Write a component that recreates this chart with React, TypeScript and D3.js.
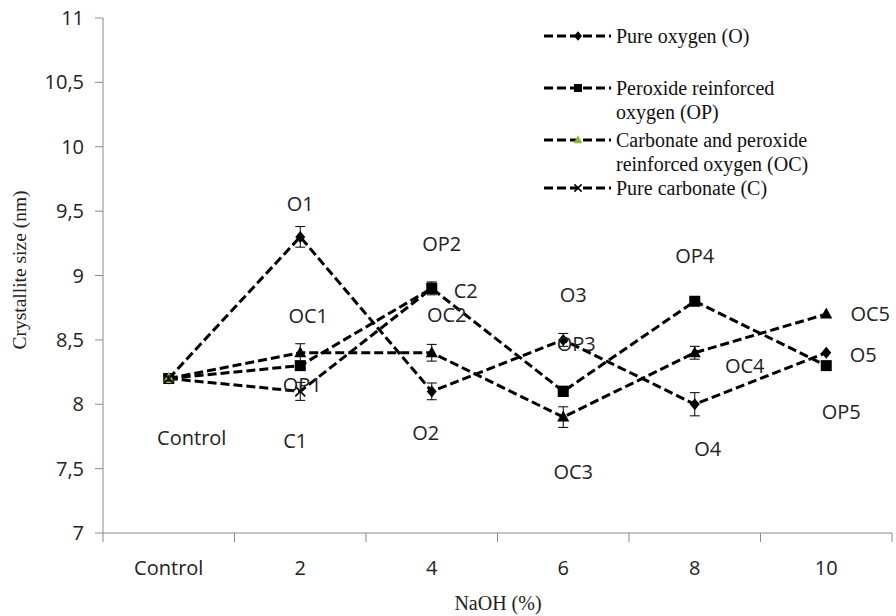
import * as d3 from 'd3'
import { useEffect, useRef } from 'react'

// categories on the x axis
const categories = ['Control', '2', '4', '6', '8', '10']
const yTickValues = [7, 7.5, 8, 8.5, 9, 9.5, 10, 10.5, 11]

// series values (crystallite size, nm)
const oxygen = [8.2, 9.3, 8.1, 8.5, 8.0, 8.4]
const oxygenErr = [0.03, 0.08, 0.065, 0.05, 0.09, 0]
const peroxide = [8.2, 8.3, 8.9, 8.1, 8.8, 8.3]
const peroxideErr = [0.02, 0.02, 0.05, 0.04, 0.02, 0]
const carbPeroxide = [8.2, 8.4, 8.4, 7.9, 8.4, 8.7]
const carbPeroxideErr = [0.02, 0.07, 0.065, 0.08, 0.05, 0]
const carbonate = [8.2, 8.1, 8.9]
const carbonateErr = [0.02, 0.07, 0.04]

// point labels
const oxygenLabels = ['Control', 'O1', 'O2', 'O3', 'O4', 'O5']
const peroxideLabels = ['', 'OP1', 'OP2', 'OP3', 'OP4', 'OP5']
const carbPeroxideLabels = ['', 'OC1', 'OC2', 'OC3', 'OC4', 'OC5']
const carbonateLabels = ['', 'C1', 'C2']

const legendNames = [
  ['Pure oxygen (O)'],
  ['Peroxide reinforced', 'oxygen (OP)'],
  ['Carbonate and peroxide', 'reinforced oxygen (OC)'],
  ['Pure carbonate (C)']
]

type Shape = 'diamond' | 'square' | 'triangle' | 'cross'

interface Series {
  values: number[]
  errs: number[]
  labels: string[]
  shape: Shape
  // label offsets in px (dx, dy) per point
  offsets: [number, number][]
}

const series: Series[] = [
  {
    values: oxygen, errs: oxygenErr, labels: oxygenLabels, shape: 'diamond',
    offsets: [[23, 59], [0, -33], [-6, 42], [10, -45], [13, 45], [37, 2]]
  },
  {
    values: peroxide, errs: peroxideErr, labels: peroxideLabels, shape: 'square',
    offsets: [[0, 0], [2, 19], [10, -44], [13, -47], [0, -45], [15, 46]]
  },
  {
    values: carbPeroxide, errs: carbPeroxideErr, labels: carbPeroxideLabels, shape: 'triangle',
    offsets: [[0, 0], [8, -37], [15, -38], [10, 55], [50, 13], [44, 0]]
  },
  {
    values: carbonate, errs: carbonateErr, labels: carbonateLabels, shape: 'cross',
    offsets: [[0, 0], [-5, 50], [34, 3]]
  }
]

const GREEN = '#8cb43c'
const AXIS = '#8a8a8a'
const SANS = '"Open Sans", sans-serif'
const SERIF = '"Liberation Serif", "Times New Roman", serif'

const drawMarker = (
  g: d3.Selection<SVGGElement, unknown, null, undefined>,
  shape: Shape, cx: number, cy: number, s: number, fill: string
) => {
  if (shape === 'diamond') {
    g.append('path')
      .attr('d', `M${cx},${cy - s * 0.6}L${cx + s * 0.5},${cy}L${cx},${cy + s * 0.6}L${cx - s * 0.5},${cy}Z`)
      .attr('fill', fill)
  } else if (shape === 'square') {
    g.append('rect')
      .attr('x', cx - s / 2).attr('y', cy - s / 2)
      .attr('width', s).attr('height', s)
      .attr('fill', fill)
  } else if (shape === 'triangle') {
    g.append('path')
      .attr('d', `M${cx},${cy - s * 0.6}L${cx + s * 0.55},${cy + s * 0.4}L${cx - s * 0.55},${cy + s * 0.4}Z`)
      .attr('fill', fill)
  } else {
    const h = s * 0.45
    g.append('path')
      .attr('d', `M${cx - h},${cy - h}L${cx + h},${cy + h}M${cx - h},${cy + h}L${cx + h},${cy - h}`)
      .attr('stroke', fill)
      .attr('stroke-width', 1.6)
  }
}

const App = () => {
  const ref = useRef<SVGSVGElement>(null)

  useEffect(() => {
    if (!ref.current) return
    const svg = d3.select(ref.current)
    svg.selectAll('*').remove()

    const x = d3.scaleBand().domain(categories).range([103, 892]).paddingInner(0).paddingOuter(0)
    const y = d3.scaleLinear().domain([7, 11]).range([533, 18])
    const cx = (i: number) => x(categories[i])! + x.bandwidth() / 2

    // Y axis
    const yAxis = svg.append('g')
    yAxis.append('line')
      .attr('x1', 103).attr('x2', 103).attr('y1', y(11)).attr('y2', y(7))
      .attr('stroke', AXIS)
    yTickValues.forEach(v => {
      yAxis.append('line')
        .attr('x1', 95).attr('x2', 103).attr('y1', y(v)).attr('y2', y(v))
        .attr('stroke', AXIS)
      yAxis.append('text')
        .attr('x', 84).attr('y', y(v))
        .attr('dy', '0.35em')
        .attr('text-anchor', 'end')
        .style('font-family', SANS)
        .style('font-size', '20px')
        .style('fill', '#222')
        .text(String(v).replace('.', ','))
    })

    // X axis
    const xAxis = svg.append('g')
    xAxis.append('line')
      .attr('x1', 103).attr('x2', 892).attr('y1', y(7)).attr('y2', y(7))
      .attr('stroke', AXIS)
    categories.forEach((c, i) => {
      xAxis.append('line')
        .attr('x1', x(c)!).attr('x2', x(c)!).attr('y1', y(7)).attr('y2', y(7) + 9)
        .attr('stroke', AXIS)
      xAxis.append('text')
        .attr('x', cx(i)).attr('y', 568)
        .attr('dy', '0.35em')
        .attr('text-anchor', 'middle')
        .style('font-family', SANS)
        .style('font-size', '20px')
        .style('fill', '#222')
        .text(c)
    })
    xAxis.append('line')
      .attr('x1', 892).attr('x2', 892).attr('y1', y(7)).attr('y2', y(7) + 9)
      .attr('stroke', AXIS)

    // axis titles
    svg.append('text')
      .attr('transform', `translate(19,270) rotate(-90)`)
      .attr('text-anchor', 'middle')
      .attr('dy', '0.35em')
      .style('font-family', SERIF)
      .style('font-size', '19.5px')
      .style('fill', '#222')
      .text('Crystallite size (nm)')
    svg.append('text')
      .attr('x', 498).attr('y', 603)
      .attr('text-anchor', 'middle')
      .attr('dy', '0.35em')
      .style('font-family', SERIF)
      .style('font-size', '20px')
      .style('fill', '#222')
      .text('NaOH (%)')

    const line = d3.line<number>()
      .x((_, i) => cx(i))
      .y(d => y(d))

    // lines
    series.forEach(s => {
      svg.append('path')
        .datum(s.values)
        .attr('d', line)
        .attr('fill', 'none')
        .attr('stroke', '#000')
        .attr('stroke-width', 3)
        .attr('stroke-dasharray', '9,4')
    })

    // error bars + markers
    series.forEach(s => {
      const g = svg.append('g')
      s.values.forEach((v, i) => {
        const e = s.errs[i]
        if (e > 0) {
          const px = cx(i)
          g.append('path')
            .attr('d', `M${px},${y(v + e)}V${y(v - e)}M${px - 5},${y(v + e)}H${px + 5}M${px - 5},${y(v - e)}H${px + 5}`)
            .attr('stroke', '#000')
            .attr('stroke-width', 1)
            .attr('fill', 'none')
        }
        const fill = s.shape === 'triangle' && i === 0 ? GREEN : '#000'
        drawMarker(g, s.shape, cx(i), y(v), s.shape === 'diamond' ? 10 : 11, fill)
      })
    })

    // point labels
    series.forEach(s => {
      s.labels.forEach((lab, i) => {
        if (!lab) return
        svg.append('text')
          .attr('x', cx(i) + s.offsets[i][0])
          .attr('y', y(s.values[i]) + s.offsets[i][1])
          .attr('dy', '0.35em')
          .attr('text-anchor', 'middle')
          .style('font-family', SANS)
          .style('font-size', '20px')
          .style('fill', '#222')
          .text(lab)
      })
    })

    // legend
    const legendY = [36, 88, 140, 188]
    const legend = svg.append('g')
    series.forEach((s, i) => {
      const ly = legendY[i]
      legend.append('line')
        .attr('x1', 544).attr('x2', 611).attr('y1', ly).attr('y2', ly)
        .attr('stroke', '#000')
        .attr('stroke-width', 3)
        .attr('stroke-dasharray', '9,4')
      drawMarker(legend as any, s.shape, 578, ly, 8, s.shape === 'triangle' ? GREEN : '#000')
      legendNames[i].forEach((t, j) => {
        legend.append('text')
          .attr('x', 616).attr('y', ly + j * 24)
          .attr('dy', '0.35em')
          .style('font-family', SERIF)
          .style('font-size', '20px')
          .style('fill', '#111')
          .text(t)
      })
    })
  }, [])

  return (
    <svg
      ref={ref}
      width={896}
      height={616}
      style={{ position: 'absolute', left: 0, top: 0, background: '#fff' }}
    />
  )
}

export default App
